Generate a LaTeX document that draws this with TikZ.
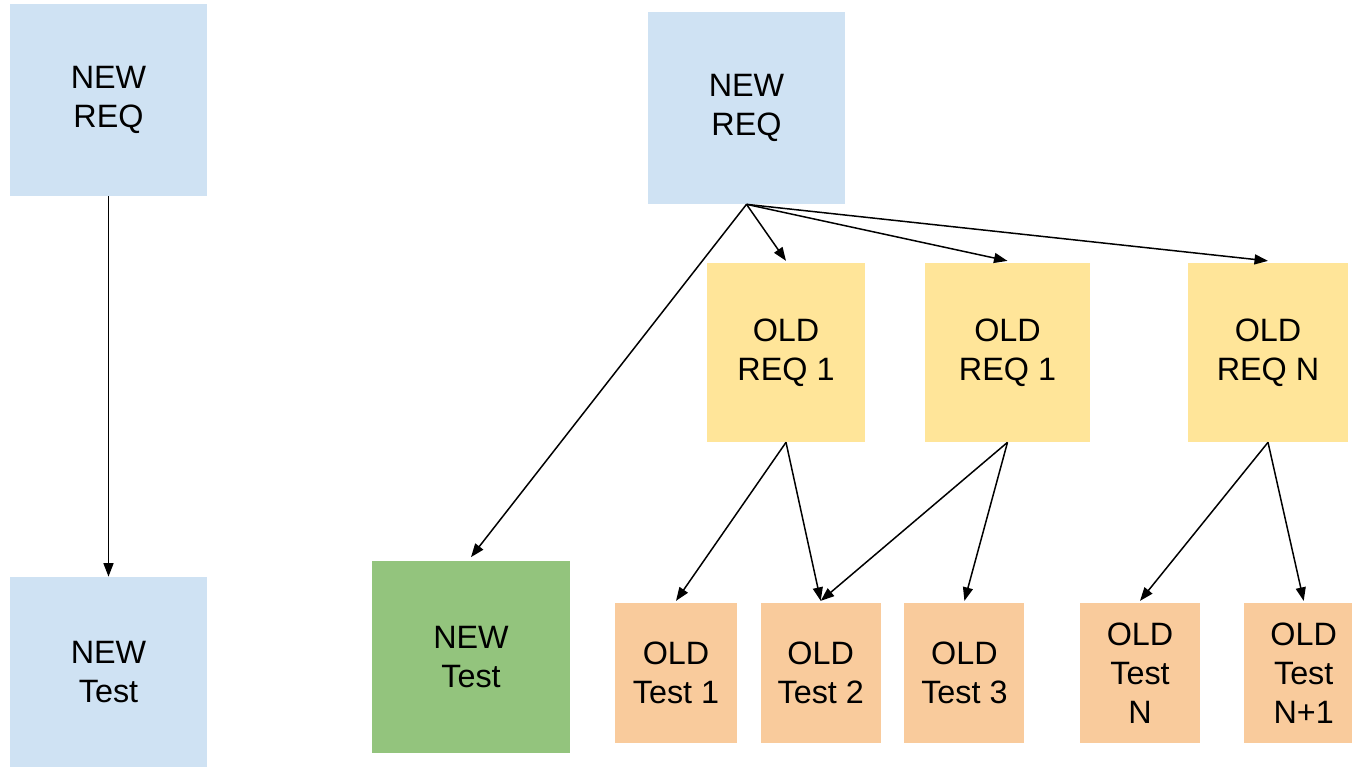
\documentclass[tikz,border=0pt]{standalone}
\usepackage{fontspec}
\setmainfont{Liberation Sans}
\usetikzlibrary{positioning,arrows.meta}

\definecolor{reqblue}{HTML}{CFE2F3}
\definecolor{reqyellow}{HTML}{FFE599}
\definecolor{testgreen}{HTML}{93C47D}
\definecolor{testorange}{HTML}{F9CB9C}

\begin{document}
\begin{tikzpicture}[node distance=0.46cm,
    box/.style={inner sep=0pt, align=center, font=\fontsize{18.4}{22.3}\selectfont},
    newreq/.style={box, fill=reqblue, minimum width=3.94cm, minimum height=3.84cm},
    oldreq/.style={box, fill=reqyellow, minimum height=3.58cm},
    newtest/.style={box, fill=testgreen, minimum width=3.96cm, minimum height=3.84cm},
    oldtest/.style={box, fill=testorange, minimum width=2.4cm, minimum height=2.8cm},
    link/.style={-{Triangle[length=0.27cm, width=0.2cm]}, line width=0.85pt}]

    \useasboundingbox (0,0) rectangle (27.04,15.34);

    % left: one requirement, one test
    \node[newreq] (reqleft) at (2.17,13.34) {NEW\\REQ};
    \node[newreq, minimum height=3.8cm] (testleft) at (2.17,1.9) {NEW\\Test};

    % right: new requirement touching old ones
    \node[newreq] (req) at (14.93,13.18) {NEW\\REQ};

    \node[oldreq, minimum width=3.16cm] (old1) at (15.72,8.29) {OLD\\REQ 1};
    \node[oldreq, minimum width=3.3cm] (old2) at (20.15,8.29) {OLD\\REQ 1};
    \node[oldreq, minimum width=3.2cm] (oldn) at (25.36,8.29) {OLD\\REQ N};

    \node[newtest] (test) at (9.42,2.2) {NEW\\Test};

    \node[oldtest, minimum width=2.44cm] (test1) at (13.52,1.88) {OLD\\Test 1};
    \node[oldtest] (test2) [right = of test1] {OLD\\Test 2};
    \node[oldtest] (test3) [right = of test2] {OLD\\Test 3};
    \node[oldtest] (testn) at (22.8,1.88) {OLD\\Test\\N};
    \node[oldtest] (testn1) [right = 0.86cm of testn] {OLD\\Test\\N+1};

    \draw[link] (reqleft.south) -- (testleft.north);

    \draw[link] (req.south) -- ([yshift=2pt]test.north);
    \draw[link] (req.south) -- ([yshift=1pt]old1.north);
    \draw[link] (req.south) -- ([yshift=1pt]old2.north);
    \draw[link] (req.south) -- ([yshift=1pt]oldn.north);

    \draw[link] (old1.south) -- ([yshift=1pt]test1.north);
    \draw[link] (old1.south) -- ([yshift=1pt]test2.north);
    \draw[link] (old2.south) -- ([yshift=1pt]test2.north);
    \draw[link] (old2.south) -- ([yshift=1pt]test3.north);
    \draw[link] (oldn.south) -- ([yshift=1pt]testn.north);
    \draw[link] (oldn.south) -- ([yshift=1pt]testn1.north);

\end{tikzpicture}
\end{document}
